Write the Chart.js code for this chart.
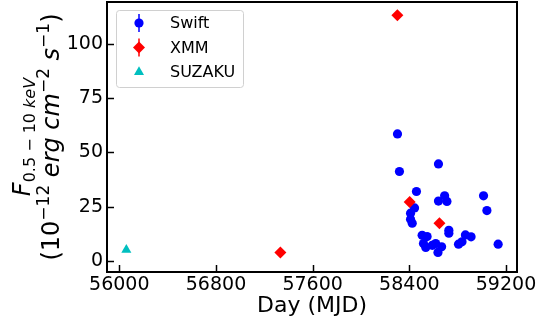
<!DOCTYPE html>
<html>
<head>
<meta charset="utf-8">
<script src="https://cdn.jsdelivr.net/npm/chart.js@4.4.0/dist/chart.umd.min.js"></script>
<style>
  html, body { margin: 0; padding: 0; background: #fff; }
</style>
</head>
<body>
<canvas id="lc" width="544" height="321"></canvas>
<script>
// light curve values
var swiftDay  = [58302, 58318, 58641, 58459, 58692, 58641, 58711, 59014, 59042, 58443,
                 58410, 58410, 58424, 58727, 58727, 58506, 58547, 58864, 58911, 58836,
                 58807, 58517, 58536, 58618, 58667, 58637, 59135, 58590];
var swiftFlux = [58.5, 41.2, 44.7, 32.0, 30.0, 27.6, 27.4, 30.0, 23.2, 24.4,
                 22.0, 19.2, 17.4, 14.1, 12.8, 11.8, 11.2, 12.0, 11.1, 8.8,
                 7.7, 8.0, 6.2, 8.0, 6.5, 3.9, 7.7, 7.2];
var xmmDay  = [57333, 58301, 58403, 58649];
var xmmFlux = [3.9, 113.2, 27.2, 17.4];
var suzakuDay  = [56058];
var suzakuFlux = [5.1];

var xTicks = [56000, 56800, 57600, 58400, 59200];
var yTicks = [0, 25, 50, 75, 100];

function pts(xs, ys) {
  var out = [];
  for (var i = 0; i < xs.length; i++) out.push({x: xs[i], y: ys[i]});
  return out;
}

Chart.defaults.font.family = '"DejaVu Sans"';
Chart.defaults.color = '#000';

// black frame + inward ticks
var frame = {
  id: 'frame',
  afterDatasetsDraw: function(chart) {
    var ctx = chart.ctx, a = chart.chartArea;
    var xs = chart.scales.x, ys = chart.scales.y;
    ctx.save();
    ctx.strokeStyle = '#000';
    ctx.lineWidth = 1.5;
    xTicks.forEach(function(v) {
      var px = Math.round(xs.getPixelForValue(v)) + 0.5;
      ctx.beginPath(); ctx.moveTo(px, a.bottom); ctx.lineTo(px, a.bottom - 7); ctx.stroke();
    });
    yTicks.forEach(function(v) {
      var py = Math.round(ys.getPixelForValue(v)) + 0.5;
      ctx.beginPath(); ctx.moveTo(a.left, py); ctx.lineTo(a.left + 7, py); ctx.stroke();
    });
    ctx.lineWidth = 2;
    ctx.strokeRect(a.left, a.top, a.right - a.left, a.bottom - a.top);
    ctx.restore();
  }
};

// y label with sub/superscripts
function richLine(ctx, parts, bx, cy) {
  var total = 0;
  parts.forEach(function(p) {
    ctx.font = (p[2] ? 'italic ' : '') + p[1] + 'px "DejaVu Sans"';
    p.w = ctx.measureText(p[0]).width;
    total += p.w;
  });
  ctx.save();
  ctx.translate(bx, cy);
  ctx.rotate(-Math.PI / 2);
  ctx.textBaseline = 'alphabetic';
  ctx.fillStyle = '#000';
  var x = -total / 2;
  parts.forEach(function(p) {
    ctx.font = (p[2] ? 'italic ' : '') + p[1] + 'px "DejaVu Sans"';
    ctx.fillText(p[0], x, p[3]);
    x += p.w;
  });
  ctx.restore();
}

var yTitle = {
  id: 'yTitle',
  afterDraw: function(chart) {
    var a = chart.chartArea, cy = (a.top + a.bottom) / 2;
    richLine(chart.ctx, [['F', 24, true, 0], ['0.5 \u2212 10 ', 16, false, 5], ['keV', 16, true, 5]], 30, cy);
    richLine(chart.ctx, [['(10', 24, false, 0], ['\u221212', 17, false, -10], [' erg cm', 24, true, 0],
                         ['\u22122', 17, false, -10], [' s', 24, true, 0], ['\u22121', 17, false, -10],
                         [')', 24, false, 0]], 59, cy);
  }
};

// matplotlib style legend box
var legendBox = {
  id: 'legendBox',
  afterDraw: function(chart) {
    var ctx = chart.ctx, a = chart.chartArea;
    var x0 = a.left + 9, y0 = a.top + 8, w = 127, h = 77;
    ctx.save();
    ctx.fillStyle = 'rgba(255,255,255,0.8)';
    ctx.strokeStyle = '#d0d0d0';
    ctx.lineWidth = 1;
    ctx.beginPath();
    ctx.roundRect(x0 + 0.5, y0 + 0.5, w, h, 3);
    ctx.fill(); ctx.stroke();
    chart.data.datasets.forEach(function(ds, i) {
      var mx = x0 + 23, my = y0 + 13 + i * 24.5;
      ctx.fillStyle = ds.backgroundColor;
      ctx.strokeStyle = ds.backgroundColor;
      if (ds.errBar) {
        ctx.lineWidth = 1.5;
        ctx.beginPath(); ctx.moveTo(mx, my - 9); ctx.lineTo(mx, my + 9); ctx.stroke();
      }
      Chart.helpers.drawPoint(ctx, {pointStyle: ds.pointStyle, radius: ds.pointRadius, rotation: 0, borderWidth: 0}, mx, my);
      ctx.fillStyle = '#000';
      ctx.font = '16px "DejaVu Sans"';
      ctx.textBaseline = 'middle';
      ctx.fillText(ds.label, x0 + 54, my + 1);
    });
    ctx.restore();
  }
};

function noPad(s) {
  s.paddingTop = 0; s.paddingBottom = 0; s.paddingLeft = 0; s.paddingRight = 0;
}

new Chart(document.getElementById('lc'), {
  type: 'scatter',
  data: {
    datasets: [
      { label: 'Swift', data: pts(swiftDay, swiftFlux), backgroundColor: '#0000ff', borderWidth: 0,
        pointStyle: 'circle', pointRadius: 4.6, errBar: true, order: 2 },
      { label: 'XMM', data: pts(xmmDay, xmmFlux), backgroundColor: '#ff0000', borderWidth: 0,
        pointStyle: 'rectRot', pointRadius: 6, errBar: true, order: 1 },
      { label: 'SUZAKU', data: pts(suzakuDay, suzakuFlux), backgroundColor: '#00bfbf', borderWidth: 0,
        pointStyle: 'triangle', pointRadius: 5.8, order: 0 }
    ]
  },
  options: {
    responsive: false,
    animation: false,
    layout: { autoPadding: false, padding: { left: 0, top: 2, right: 27, bottom: 0 } },
    plugins: { legend: { display: false }, tooltip: { enabled: false } },
    scales: {
      x: {
        type: 'linear', min: 55898, max: 59291,
        grid: { display: false, drawTicks: false }, border: { display: false },
        afterBuildTicks: function(s) { s.ticks = xTicks.map(function(v) { return {value: v}; }); },
        afterFit: function(s) { s.height = 49; noPad(s); },
        ticks: { font: { size: 19 }, padding: 2, maxRotation: 0, autoSkip: false,
                 callback: function(v) { return String(v); } },
        title: { display: true, text: 'Day (MJD)', font: { size: 22 }, padding: { top: 0, bottom: 2 } }
      },
      y: {
        type: 'linear', min: -5.1, max: 119.3,
        grid: { display: false, drawTicks: false }, border: { display: false },
        afterBuildTicks: function(s) { s.ticks = yTicks.map(function(v) { return {value: v}; }); },
        afterFit: function(s) { s.width = 107; noPad(s); },
        ticks: { font: { size: 19 }, padding: 4, autoSkip: false }
      }
    }
  },
  plugins: [frame, yTitle, legendBox]
});
</script>
</body>
</html>
